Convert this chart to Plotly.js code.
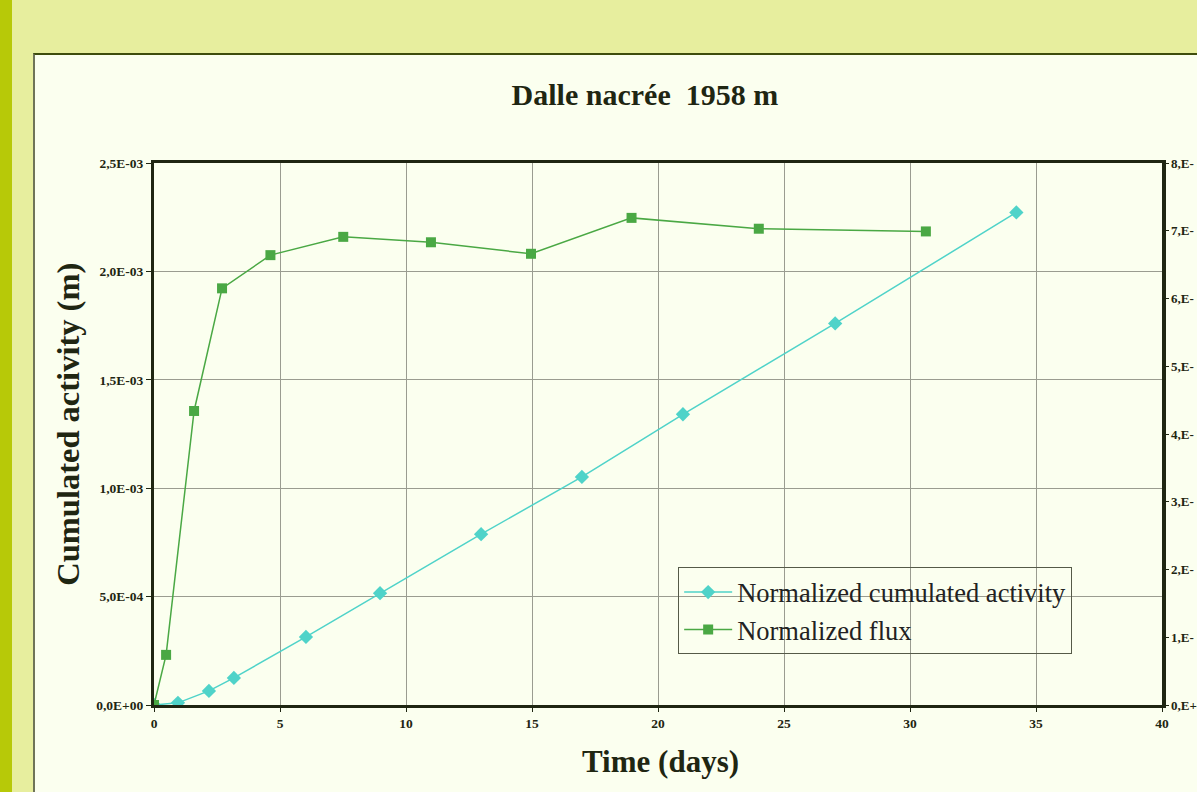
<!DOCTYPE html>
<html>
<head>
<meta charset="utf-8">
<script src="https://cdn.plot.ly/plotly-3.0.1.min.js"></script>
<style>
  html, body { margin:0; padding:0; width:1197px; height:792px; overflow:hidden; background:#e7ee9e; }
  #stripe { position:absolute; left:0; top:0; width:12px; height:792px; background:#b7c908; }
  #frame { position:absolute; left:33px; top:53px; width:1164px; height:739px;
           border-top:2px solid #3e4d0c; border-left:2px solid #6f7458; background:#fbffef; box-sizing:border-box; }
  #chart { position:absolute; left:0; top:0; width:1162px; height:737px; }
</style>
</head>
<body>
<div id="stripe"></div>
<div id="frame"><div id="chart"></div></div>
<script>
// Normalized cumulated activity (left axis, m)
const actDays = [0, 0.95, 2.18, 3.17, 6.03, 8.97, 12.98, 16.98, 20.99, 27.03, 34.22];
const actValues = [0, 0.00001, 0.000065, 0.000125, 0.000314, 0.000516, 0.000788, 0.001052, 0.001341, 0.001760, 0.002272];
// Normalized flux (right axis)
const fluxDays = [0, 0.48, 1.59, 2.70, 4.62, 7.51, 10.99, 14.96, 18.95, 24.0, 30.63];
const fluxValues = [0, 0.74, 4.34, 6.15, 6.64, 6.91, 6.83, 6.66, 7.19, 7.03, 6.99];

const xTicks = [0, 5, 10, 15, 20, 25, 30, 35, 40];
const leftTickVals = [0, 0.0005, 0.001, 0.0015, 0.002, 0.0025];
const leftTickText = ["0,0E+00", "5,0E-04", "1,0E-03", "1,5E-03", "2,0E-03", "2,5E-03"];
const rightTickVals = [0, 1, 2, 3, 4, 5, 6, 7, 8];
const rightTickText = ["0,E+", "1,E-", "2,E-", "3,E-", "4,E-", "5,E-", "6,E-", "7,E-", "8,E-"];

const serif = "Liberation Serif, Times New Roman, serif";
const dark = "#1f2612";

const traces = [
  {
    x: actDays, y: actValues, name: "Normalized cumulated activity",
    type: "scatter", mode: "lines+markers", yaxis: "y",
    line: {color: "#4fd3c9", width: 1.5},
    marker: {symbol: "diamond", size: 11, color: "#4fd3c9"}
  },
  {
    x: fluxDays, y: fluxValues, name: "Normalized flux",
    type: "scatter", mode: "lines+markers", yaxis: "y2",
    line: {color: "#4aa844", width: 1.5},
    marker: {symbol: "square", size: 10, color: "#4aa844"}
  }
];

const layout = {
  width: 1162, height: 737,
  margin: {l: 119, r: 35, t: 108, b: 87},
  paper_bgcolor: "#fbffef",
  plot_bgcolor: "#fbffef",
  showlegend: true,
  title: {
    text: "Dalle nacrée  1958 m",
    font: {family: serif, size: 30, color: dark, weight: "bold"},
    xref: "paper", x: 0.487, xanchor: "center",
    yref: "container", y: 0.946, yanchor: "middle"
  },
  xaxis: {
    range: [0, 40], tickvals: xTicks, ticktext: xTicks.map(String),
    showgrid: true, gridcolor: "#9a9c90", gridwidth: 1,
    zeroline: false, showline: true, mirror: true, linecolor: dark, linewidth: 3,
    ticks: "outside", ticklen: 4, tickcolor: dark,
    tickfont: {family: serif, size: 13.5, color: dark, weight: "bold"}
  },
  yaxis: {
    range: [0, 0.0025], tickvals: leftTickVals, ticktext: leftTickText,
    showgrid: true, gridcolor: "#9a9c90", gridwidth: 1,
    zeroline: false, showline: true, linecolor: dark, linewidth: 3,
    ticks: "outside", ticklen: 5, tickcolor: dark,
    tickfont: {family: serif, size: 13.5, color: dark, weight: "bold"}
  },
  yaxis2: {
    range: [0, 8], tickvals: rightTickVals, ticktext: rightTickText,
    overlaying: "y", side: "right",
    showgrid: false, zeroline: false, showline: true, linecolor: dark, linewidth: 3.5,
    ticks: "outside", ticklen: 3, tickcolor: dark,
    tickfont: {family: serif, size: 13, color: dark, weight: "bold"}
  },
  legend: {
    x: 0.52, y: 0.254, xanchor: "left", yanchor: "top",
    bgcolor: "rgba(0,0,0,0)", bordercolor: "#555a48", borderwidth: 1,
    font: {family: serif, size: 26.5, color: "#222"},
    itemwidth: 48,
    tracegroupgap: 0
  },
  annotations: [
    {
      text: "Cumulated activity (m)", xref: "paper", yref: "paper",
      x: -0.0853, y: 0.517, xanchor: "center", yanchor: "middle",
      textangle: -90, showarrow: false,
      font: {family: serif, size: 32.5, color: dark, weight: "bold"}
    },
    {
      text: "Time (days)", xref: "paper", yref: "paper",
      x: 0.502, y: -0.105, xanchor: "center", yanchor: "middle",
      showarrow: false,
      font: {family: serif, size: 31, color: dark, weight: "bold"}
    }
  ]
};

Plotly.newPlot("chart", traces, layout, {displayModeBar: false, staticPlot: true});
</script>
</body>
</html>
